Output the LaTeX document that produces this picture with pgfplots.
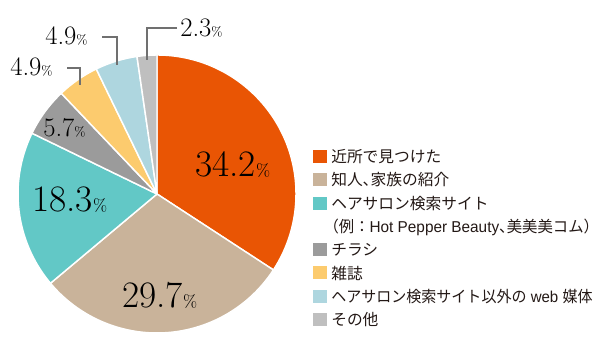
\documentclass[border=0pt]{standalone}
\usepackage{pgfplots}
\usepackage{pgfplotstable}
\usepackage{fontspec}
\pgfplotsset{compat=1.18}
\newfontfamily\jp{Noto Sans CJK JP}
\newfontfamily\lat{Liberation Sans}
\definecolor{c1}{HTML}{E95504}
\definecolor{c2}{HTML}{C9B39A}
\definecolor{c3}{HTML}{62C8C6}
\definecolor{c4}{HTML}{9B9B9B}
\definecolor{c5}{HTML}{FCCB6E}
\definecolor{c6}{HTML}{AED6DF}
\definecolor{c7}{HTML}{BFBFBF}
\definecolor{lead}{HTML}{707070}
\definecolor{txt}{HTML}{231815}
\pgfplotstableread{
val col
34.2 c1
29.7 c2
18.3 c3
5.7 c4
4.9 c5
4.9 c6
2.3 c7
}\piedata
\newcommand{\biglab}[1]{{\fontsize{28}{28}\selectfont #1}{\fontsize{13}{13}\selectfont\%}}
\newcommand{\smllab}[1]{{\fontsize{20}{20}\selectfont #1}{\fontsize{10}{10}\selectfont\%}}
\newcommand{\hw}[1]{\makebox[0.5em][l]{#1}}
\newcommand{\hwr}[1]{\makebox[0.5em][r]{#1}}
\tikzset{legtxt/.style={anchor=west,inner sep=0,text=txt,font=\jp\fontsize{11.8}{14}\selectfont}}
\newcommand{\legrow}[3]{%
  \fill[#2] (axis cs:313,#1-6.5) rectangle (axis cs:326.5,#1+6.5);
  \node[legtxt] at (axis cs:331,#1) {#3};}
\begin{document}
\begin{tikzpicture}
\begin{axis}[width=450pt,height=264pt,scale only axis,hide axis,clip=false,
  xmin=0,xmax=600,ymin=0,ymax=352]
\path (axis cs:0,0) rectangle (axis cs:600,352);
\pgfmathsetmacro\cum{0}
\pgfplotsforeachungrouped \i in {0,...,6}{%
  \pgfplotstablegetelem{\i}{val}\of\piedata \let\v\pgfplotsretval
  \pgfplotstablegetelem{\i}{col}\of\piedata \let\c\pgfplotsretval
  \pgfmathsetmacro\a{90-3.6*\cum}%
  \pgfmathsetmacro\b{90-3.6*(\cum+\v)}%
  \edef\tmp{\noexpand\fill[\c, draw=white, line width=1.1pt, line join=round] (axis cs:157,158) -- ++(\a:104.25pt) arc[start angle=\a, end angle=\b, radius=104.25pt] -- cycle;}%
  \tmp
  \pgfmathsetmacro\cum{\cum+\v}%
}
% percent labels
\node[anchor=base west,inner sep=0] at (axis cs:195,175) {\biglab{34.2}};
\node[anchor=base west,inner sep=0] at (axis cs:122,44) {\biglab{29.7}};
\node[anchor=base west,inner sep=0] at (axis cs:32,140) {\biglab{18.3}};
\node[anchor=base west,inner sep=0] at (axis cs:43,215) {\smllab{5.7}};
\node[anchor=base west,inner sep=0] at (axis cs:10,276) {\smllab{4.9}};
\node[anchor=base west,inner sep=0] at (axis cs:45,307) {\smllab{4.9}};
\node[anchor=base west,inner sep=0] at (axis cs:180,315) {\smllab{2.3}};
% leader lines
\draw[lead,line width=0.8pt] (axis cs:67,284) -- (axis cs:80,284) -- (axis cs:80,267);
\draw[lead,line width=0.8pt] (axis cs:102,315) -- (axis cs:117,315) -- (axis cs:117,287);
\draw[lead,line width=0.8pt] (axis cs:177,324) -- (axis cs:147,324) -- (axis cs:147,292);
% legend
\legrow{195}{c1}{近所で見つけた}
\legrow{172}{c2}{知人\hw{、}家族の紹介}
\legrow{148}{c3}{ヘアサロン検索サイト}
\node[legtxt] at (axis cs:331,125) {\scalebox{0.975}[1]{\hwr{（}例：{\lat Hot Pepper Beauty}\hw{、}美美美コム\hw{）}}};
\legrow{102}{c4}{チラシ}
\legrow{79}{c5}{雑誌}
\legrow{55}{c6}{\scalebox{0.955}[1]{ヘアサロン検索サイト以外の{\lat\ web }媒体}}
\legrow{32}{c7}{その他}
\end{axis}
\end{tikzpicture}
\end{document}
